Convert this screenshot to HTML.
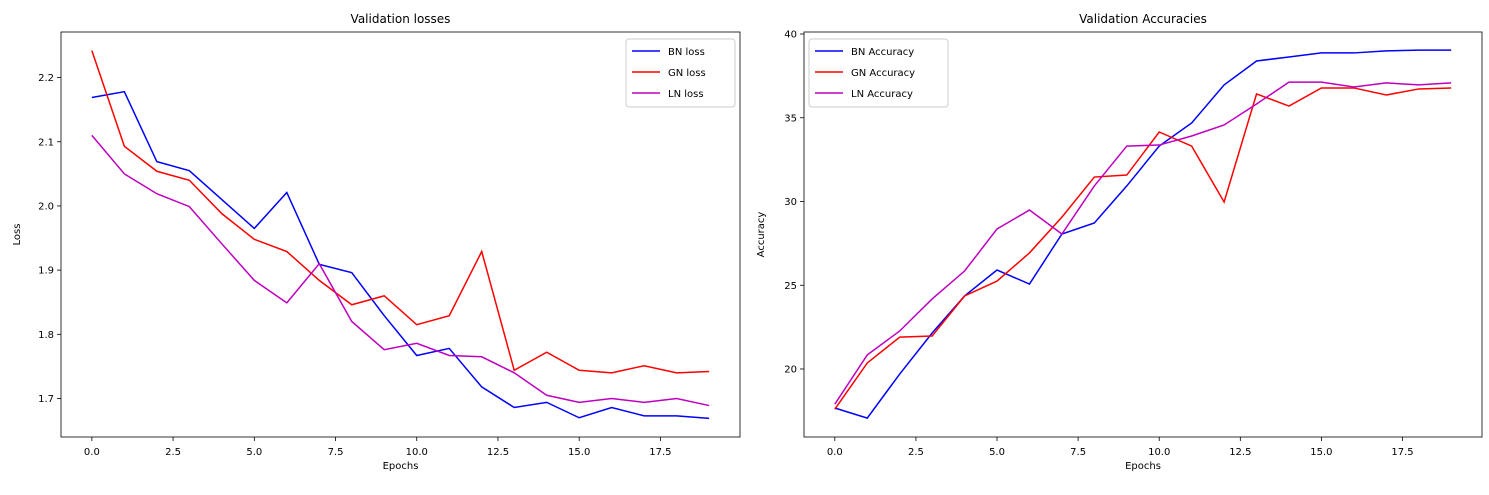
<!DOCTYPE html>
<html><head><meta charset="utf-8"><style>
body{margin:0;background:#fff;font-family:"Liberation Sans","DejaVu Sans",sans-serif}
svg text{font-family:"DejaVu Sans","Liberation Sans",sans-serif;fill:#000}
</style></head><body>
<svg id="c" width="1489" height="490" xmlns="http://www.w3.org/2000/svg"></svg>
<script>
const epochs=[0,1,2,3,4,5,6,7,8,9,10,11,12,13,14,15,16,17,18,19];
const bnLoss=[2.169,2.178,2.069,2.055,2.010,1.965,2.021,1.909,1.896,1.829,1.767,1.778,1.718,1.686,1.694,1.670,1.686,1.673,1.673,1.669];
const gnLoss=[2.242,2.093,2.054,2.040,1.988,1.948,1.929,1.884,1.846,1.860,1.815,1.829,1.929,1.744,1.772,1.744,1.740,1.751,1.740,1.742];
const lnLoss=[2.110,2.050,2.019,1.999,1.941,1.884,1.849,1.910,1.820,1.776,1.786,1.767,1.765,1.740,1.705,1.694,1.700,1.694,1.700,1.689];
const bnAcc=[17.67,17.07,19.7,22.15,24.36,25.91,25.07,28.06,28.72,30.93,33.31,34.69,36.96,38.39,38.63,38.87,38.87,38.99,39.04,39.04];
const gnAcc=[17.6,20.36,21.9,21.97,24.36,25.25,26.93,29.07,31.46,31.58,34.15,33.31,29.97,36.42,35.7,36.78,36.78,36.36,36.72,36.78];
const lnAcc=[17.9,20.84,22.27,24.18,25.85,28.36,29.49,28.06,30.93,33.31,33.37,33.91,34.57,35.82,37.13,37.13,36.84,37.08,36.96,37.08];
const xTicks=[0,2.5,5,7.5,10,12.5,15,17.5];
const lossTicks=[1.7,1.8,1.9,2.0,2.1,2.2];
const accTicks=[20,25,30,35,40];

const svg=document.getElementById('c');
const NS='http://www.w3.org/2000/svg';
function mk(tag,attrs,parent){const e=document.createElementNS(NS,tag);for(const k in attrs)e.setAttribute(k,attrs[k]);(parent||svg).appendChild(e);return e;}

function panel(o){
  const g=mk('g',{});
  
  
  const x=v=>o.x0+(v-o.xmin)/(o.xmax-o.xmin)*(o.x1-o.x0);
  const y=v=>o.y1-(v-o.ymin)/(o.ymax-o.ymin)*(o.y1-o.y0);
  // ticks
  xTicks.forEach(t=>{
    const px=x(t);
    const l=mk('line',{x1:px,x2:px,y1:o.y1,y2:o.y1+4,stroke:'#000','stroke-width':0.8},g);
    
    const tx=mk('text',{x:px,y:o.y1+18,'font-size':10,'text-anchor':'middle'},g);
    tx.textContent=t.toFixed(1);
    
  });
  o.yt.forEach(t=>{
    const py=y(t);
    const l=mk('line',{x1:o.x0-4,x2:o.x0,y1:py,y2:py,stroke:'#000','stroke-width':0.8},g);
    
    const tx=mk('text',{x:o.x0-7,y:py+3.5,'font-size':10,'text-anchor':'end'},g);
    tx.textContent=o.fmt(t);
    
  });
  // series
  o.series.forEach(s=>{
    const p=mk('polyline',{points:epochs.map((e,i)=>x(e)+','+y(s.v[i])).join(' '),fill:'none',stroke:s.c,'stroke-width':1.5},g);
    
  });
  const f=mk('rect',{x:o.x0,y:o.y0,width:o.x1-o.x0,height:o.y1-o.y0,fill:'none',stroke:'#000','stroke-width':0.8},g);
  
  const ti=mk('text',{x:(o.x0+o.x1)/2,y:o.y0-9,'font-size':12,'text-anchor':'middle'},g);
  ti.textContent=o.title;
  const xl=mk('text',{x:(o.x0+o.x1)/2,y:o.y1+32,'font-size':10,'text-anchor':'middle'},g);
  xl.textContent='Epochs';
  const yx=o.ylx,yy=(o.y0+o.y1)/2;
  const yl=mk('text',{x:yx,y:yy,'font-size':10,'text-anchor':'middle',transform:`rotate(-90 ${yx} ${yy})`},g);
  yl.textContent=o.ylabel;
  // legend
  const lg=mk('g',{},g);
  
  mk('rect',{x:o.lx,y:o.ly,width:o.lw,height:68,rx:3,fill:'#fff',stroke:'#ccc','stroke-width':1},lg);
  o.series.forEach((s,i)=>{
    const cy=o.ly+12+i*21;
    const e=mk('g',{},lg);
    
    mk('line',{x1:o.lx+6,x2:o.lx+34,y1:cy,y2:cy,stroke:s.c,'stroke-width':1.5},e);
    const t=mk('text',{x:o.lx+42,y:cy+4,'font-size':10},e);t.textContent=s.label;
  });
}
panel({name:'loss-chart',x0:61,x1:740,y0:32,y1:437,xmin:-0.95,xmax:19.95,ymin:1.640,ymax:2.271,
  yt:lossTicks,fmt:t=>t.toFixed(1),title:'Validation losses',ylabel:'Loss',ylx:20,lx:626,ly:39,lw:109,
  series:[{id:'bn-loss-line',v:bnLoss,c:'#0000ff',label:'BN loss'},{id:'gn-loss-line',v:gnLoss,c:'#ff0000',label:'GN loss'},{id:'ln-loss-line',v:lnLoss,c:'#bf00bf',label:'LN loss'}]});
panel({name:'accuracy-chart',x0:804,x1:1482,y0:32,y1:437,xmin:-0.95,xmax:19.95,ymin:15.94,ymax:40.12,
  yt:accTicks,fmt:t=>String(t),title:'Validation Accuracies',ylabel:'Accuracy',ylx:764,lx:809,ly:39,lw:139,
  series:[{id:'bn-accuracy-line',v:bnAcc,c:'#0000ff',label:'BN Accuracy'},{id:'gn-accuracy-line',v:gnAcc,c:'#ff0000',label:'GN Accuracy'},{id:'ln-accuracy-line',v:lnAcc,c:'#bf00bf',label:'LN Accuracy'}]});
</script>
</body></html>
